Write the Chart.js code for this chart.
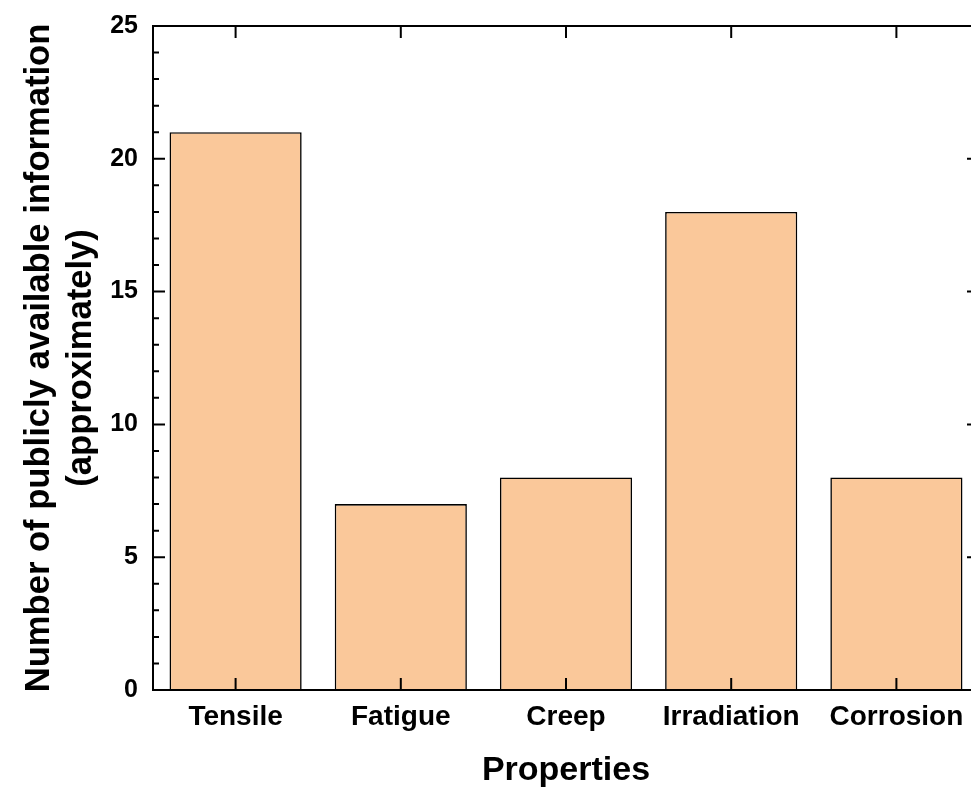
<!DOCTYPE html>
<html>
<head>
<meta charset="utf-8">
<script src="https://cdn.jsdelivr.net/npm/chart.js@4"></script>
<style>
  html, body { margin: 0; padding: 0; overflow: hidden; background: #fff; }
  #wrap { width: 1000px; height: 788px; }
</style>
</head>
<body>
<div id="wrap"><canvas id="bar-chart"></canvas></div>
<script>
var properties = ["Tensile", "Fatigue", "Creep", "Irradiation", "Corrosion"];
var counts = [21, 7, 8, 18, 8];
var yMin = 0, yMax = 25, yStep = 5;

Chart.defaults.font.family = "'Liberation Sans', Arial, sans-serif";
Chart.defaults.font.weight = 'bold';
Chart.defaults.color = '#000';

// box round the plot, ticks pointing inward
var frame = {
    id: 'frame',
    afterDraw: function (chart) {
        var ctx = chart.ctx, area = chart.chartArea;
        var x = chart.scales.x, y = chart.scales.y;
        ctx.save();
        ctx.strokeStyle = '#000';
        ctx.lineWidth = 2;
        ctx.strokeRect(area.left, area.top, area.right - area.left, area.bottom - area.top);
        ctx.beginPath();
        for (var v = yMin; v <= yMax; v++) {
            var py = y.getPixelForValue(v);
            var major = v % yStep === 0;
            ctx.moveTo(area.left, py);
            ctx.lineTo(area.left + (major ? 12 : 6), py);
            if (major) {
                ctx.moveTo(area.right, py);
                ctx.lineTo(area.right - 12, py);
            }
        }
        properties.forEach(function (p, i) {
            var px = x.getPixelForValue(i);
            ctx.moveTo(px, area.bottom);
            ctx.lineTo(px, area.bottom - 12);
            ctx.moveTo(px, area.top);
            ctx.lineTo(px, area.top + 12);
        });
        ctx.stroke();
        ctx.restore();
    }
};

var data = {
    labels: properties,
    datasets: [{
        data: counts,
        backgroundColor: '#FAC89A',
        borderColor: '#000',
        borderWidth: 1.6,
        barPercentage: 0.8,
        categoryPercentage: 1.0
    }]
};

var options = {
    responsive: true,
    maintainAspectRatio: false,
    animation: false,
    layout: { padding: { top: 26, right: 21, bottom: 0, left: 0 } },
    plugins: {
        legend: { display: false },
        tooltip: { enabled: false }
    },
    scales: {
        x: {
            grid: { display: false, drawTicks: false },
            border: { display: false },
            ticks: { font: { size: 28 }, padding: 10, maxRotation: 0, autoSkip: false },
            title: {
                display: true,
                text: 'Properties',
                font: { size: 34, lineHeight: 1 },
                padding: { top: 0, bottom: 0 }
            },
            afterFit: function (scale) { scale.height = 98; }
        },
        y: {
            min: yMin,
            max: yMax,
            grid: { display: false, drawTicks: false },
            border: { display: false },
            ticks: { stepSize: yStep, font: { size: 25 }, padding: 15 },
            title: {
                display: true,
                text: ['Number of publicly available information', '(approximately)'],
                font: { size: 34.6, lineHeight: 1.23 },
                padding: { top: 18, bottom: 0 }
            },
            afterFit: function (scale) {
                scale.width = 153;
                scale.paddingTop = 0;
                scale.paddingBottom = 0;
            }
        }
    }
};

new Chart(document.getElementById('bar-chart'), {
    type: 'bar',
    data: data,
    options: options,
    plugins: [frame]
});
</script>
</body>
</html>
